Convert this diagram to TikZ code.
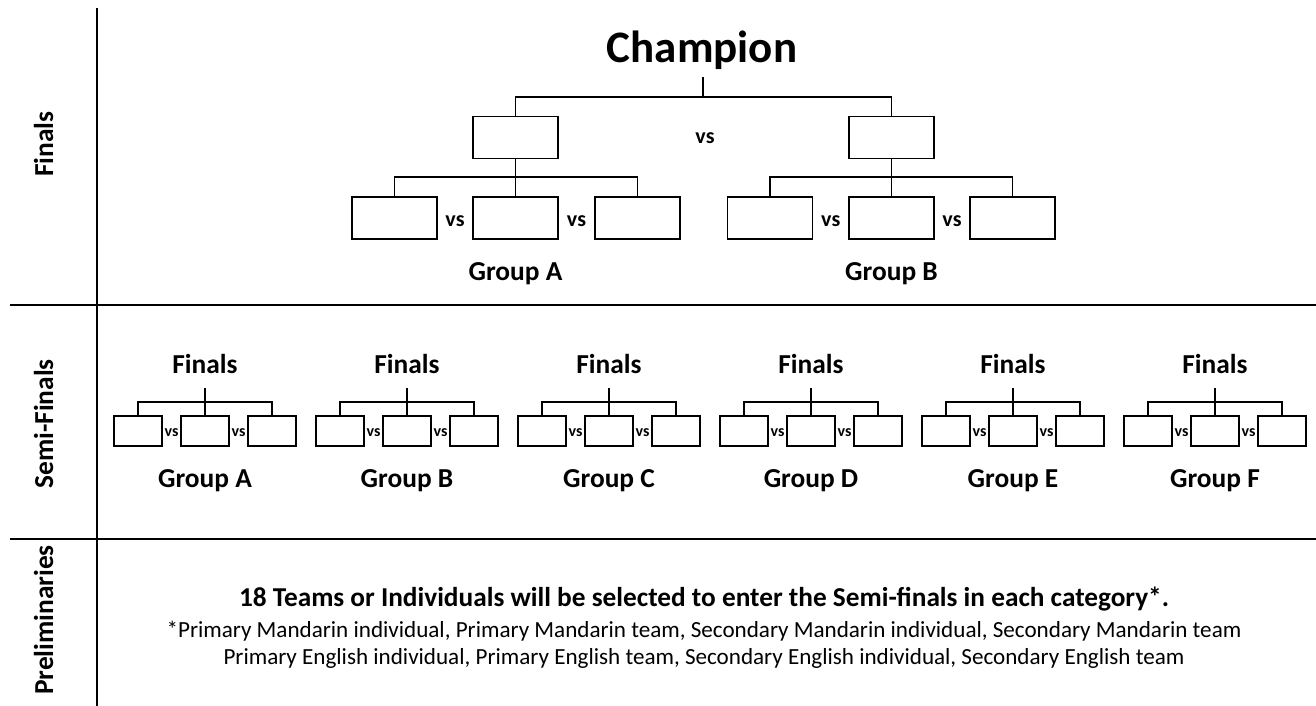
\documentclass[tikz,border=0pt]{standalone}
\usepackage{fontspec}
\setmainfont{Carlito}
\usetikzlibrary{calc}
\begin{document}
\begin{tikzpicture}[x=1pt,y=-1pt,
  ln/.style={line width=1.8pt},
  fbox/.style={draw,line width=1.8pt,minimum width=85pt,minimum height=42pt,inner sep=0pt},
  sbox/.style={draw,line width=1.6pt,minimum width=48pt,minimum height=30pt,inner sep=0pt},
  big/.style={font=\fontsize{45}{54}\selectfont\bfseries,anchor=base,inner sep=0pt},
  lab/.style={font=\fontsize{27.4}{32}\selectfont\bfseries,anchor=base,inner sep=0pt},
  side/.style={font=\fontsize{27.4}{32}\selectfont\bfseries,anchor=base,inner sep=0pt,rotate=90},
  fvs/.style={font=\fontsize{22}{26}\selectfont\bfseries,inner sep=0pt},
  svs/.style={font=\fontsize{16}{19}\selectfont\bfseries,inner sep=0pt},
  head/.style={font=\fontsize{27.3}{32}\selectfont\bfseries,anchor=base,inner sep=0pt},
  note/.style={font=\fontsize{23.1}{28}\selectfont,anchor=base,inner sep=0pt}]
\useasboundingbox (0,0) rectangle (1316,706);
% frame lines
\coordinate (vt) at (97,8);
\coordinate (vb) at (97,706);
\coordinate (h1l) at (10,305);
\coordinate (h1r) at (1316,305);
\coordinate (h2l) at (10,539);
\coordinate (h2r) at (1316,539);
\draw[ln] (vt) -- (vb);
\draw[ln] (h1l) -- (h1r);
\draw[ln] (h2l) -- (h2r);
% side labels
\node[side] (lf) at (53,144) {Finals};
\node[side] (ls) at (53,424) {Semi-Finals};
\node[side] (lp) at (53,620) {Preliminaries};
% Finals
\node[big] (champ) at (702,62.7) {Champion};
\coordinate (ct) at (703,77);
\coordinate (cj) at (703,97);
\node[fbox] (ta) at (515.5,137.5) {};
\node[fbox] (tb) at (891.5,137.5) {};
\node[fvs] (tvs) at (705,138) {vs};
\draw[ln] (ct) -- (cj);
\draw[ln] (ta.north) |- (cj) -| (tb.north);
% group A
\node[fbox] (a1) at (394.5,218) {};
\node[fbox] (a2) at (515.5,218) {};
\node[fbox] (a3) at (637.5,218) {};
\coordinate (ja) at (515.5,177);
\draw[ln] (ta.south) -- (ja) -- (a2.north);
\draw[ln] (a1.north) |- (ja) -| (a3.north);
\node[fvs] (av1) at ($(a1.east)!0.5!(a2.west)+(0,3)$) {vs};
\node[fvs] (av2) at ($(a2.east)!0.5!(a3.west)+(0,3)$) {vs};
\node[lab] (ga) at (515.5,280) {Group A};
% group B
\node[fbox] (b1) at (770,218) {};
\node[fbox] (b2) at (891.5,218) {};
\node[fbox] (b3) at (1012.5,218) {};
\coordinate (jb) at (891.5,177);
\draw[ln] (tb.south) -- (jb) -- (b2.north);
\draw[ln] (b1.north) |- (jb) -| (b3.north);
\node[fvs] (bv1) at ($(b1.east)!0.5!(b2.west)+(0,3)$) {vs};
\node[fvs] (bv2) at ($(b2.east)!0.5!(b3.west)+(0,3)$) {vs};
\node[lab] (gb) at (891.5,280) {Group B};
% Semi-finals
\foreach \i/\g in {0/A,1/B,2/C,3/D,4/E,5/F}{
  \pgfmathsetmacro{\c}{205+202*\i}
  \node[lab] (sf\i) at (\c,373) {Finals};
  \coordinate (st\i) at (\c,388);
  \coordinate (sj\i) at (\c,402);
  \node[sbox] (s\i a) at (\c-67,431) {};
  \node[sbox] (s\i b) at (\c,431) {};
  \node[sbox] (s\i c) at (\c+67,431) {};
  \draw[ln] (st\i) -- (sj\i) -- (s\i b.north);
  \draw[ln] (s\i a.north) |- (sj\i) -| (s\i c.north);
  \node[svs] (sv\i a) at (\c-33.5,433) {vs};
  \node[svs] (sv\i b) at (\c+33.5,433) {vs};
  \node[lab] (sg\i) at (\c,487) {Group \g};
}
% Preliminaries
\node[head] (p1) at (704,606) {18 Teams or Individuals will be selected to enter the Semi-finals in each category*.};
\node[note] (p2) at (704,637) {*Primary Mandarin individual, Primary Mandarin team, Secondary Mandarin individual, Secondary Mandarin team};
\node[note] (p3) at (704,664) {Primary English individual, Primary English team, Secondary English individual, Secondary English team};
\end{tikzpicture}
\end{document}
